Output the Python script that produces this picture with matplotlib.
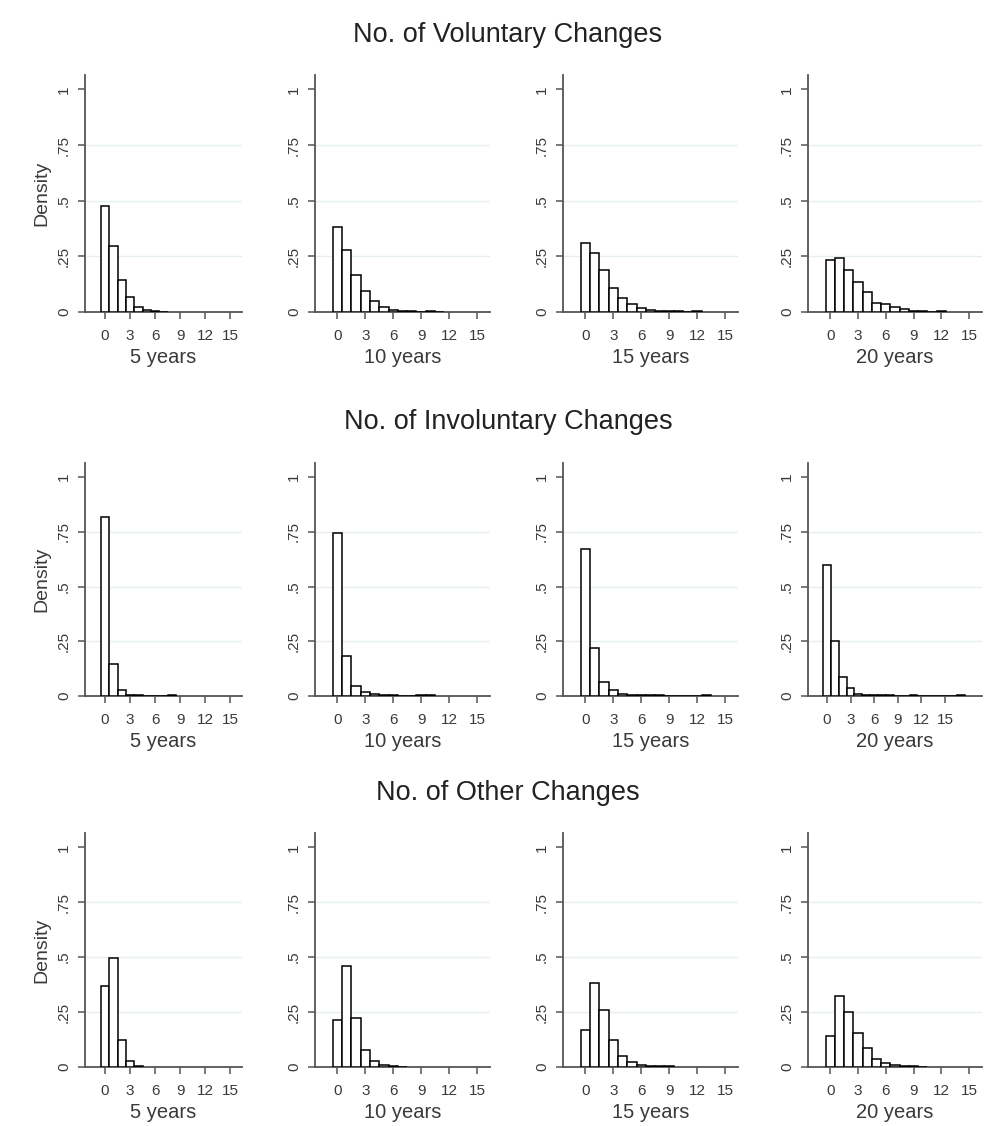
import numpy as np
import matplotlib
matplotlib.use("Agg")
import matplotlib.pyplot as plt

plt.rcParams['font.family'] = ['Liberation Sans', 'DejaVu Sans']

# densities, one value per count 0,1,2,...
vol_5 = [0.475, 0.298, 0.145, 0.066, 0.021, 0.007, 0.004, 0.002]
vol_10 = [0.38, 0.28, 0.167, 0.093, 0.048, 0.022, 0.010, 0.005, 0.003, 0.001, 0.004, 0.001]
vol_15 = [0.309, 0.264, 0.187, 0.109, 0.064, 0.034, 0.019, 0.010, 0.005, 0.003, 0.003, 0.001, 0.003]
vol_20 = [0.235, 0.242, 0.187, 0.136, 0.091, 0.042, 0.036, 0.022, 0.013, 0.006, 0.004, 0.002, 0.003]

inv_5 = [0.818, 0.147, 0.029, 0.006, 0.003, 0.002, 0.002, 0.001, 0.003]
inv_10 = [0.746, 0.181, 0.047, 0.020, 0.007, 0.004, 0.003, 0.002, 0.001, 0.003, 0.003]
inv_15 = [0.672, 0.219, 0.065, 0.029, 0.010, 0.005, 0.004, 0.003, 0.003, 0.002, 0.0, 0.0, 0.0, 0.003]
inv_20 = [0.598, 0.251, 0.089, 0.036, 0.010, 0.006, 0.003, 0.003, 0.003, 0.002, 0.0, 0.003,
          0.0, 0.0, 0.0, 0.0, 0.0, 0.003]

oth_5 = [0.367, 0.494, 0.121, 0.026, 0.005]
oth_10 = [0.214, 0.461, 0.224, 0.079, 0.026, 0.008, 0.004, 0.002]
oth_15 = [0.169, 0.381, 0.260, 0.125, 0.051, 0.023, 0.008, 0.005, 0.003, 0.003]
oth_20 = [0.139, 0.325, 0.252, 0.156, 0.088, 0.036, 0.017, 0.007, 0.004, 0.003, 0.002]

row_titles = ["No. of Voluntary Changes", "No. of Involuntary Changes", "No. of Other Changes"]
col_labels = ["5 years", "10 years", "15 years", "20 years"]
rows = [[vol_5, vol_10, vol_15, vol_20],
        [inv_5, inv_10, inv_15, inv_20],
        [oth_5, oth_10, oth_15, oth_20]]

x_ticks = [0, 3, 6, 9, 12, 15]
y_ticks = [0, 0.25, 0.5, 0.75, 1]
y_tick_labels = ["0", ".25", ".5", ".75", "1"]

W, H = 987, 1126
fig = plt.figure(figsize=(W / 100, H / 100), dpi=100)

# pixel layout of the plot areas (left, right) and (top, zero line)
col_px = [(85, 242), (315, 490), (563, 738), (808, 982)]
row_px = [(75, 312), (463, 696), (833, 1067)]
title_y = [35, 422, 793]
ytop = 1.065

axis_col = "#555555"
text_col = "#3a3a3a"

for r in range(3):
    fig.text(508 / W, 1 - title_y[r] / H, row_titles[r], ha="center", va="center",
             fontsize=19.5, color="#222222")
    for c in range(4):
        l, rgt = col_px[c]
        t, b = row_px[r]
        ax = fig.add_axes([l / W, 1 - b / H, (rgt - l) / W, (b - t) / H])
        vals = rows[r][c]
        xs = np.arange(len(vals))
        ax.bar(xs, vals, width=1.0, facecolor="white", edgecolor="black", linewidth=1.1, zorder=3)

        xmax = 16.4
        if len(vals) > 16:
            xmax = 19.7  # this panel has a bar far out at 17
        ax.set_xlim(-2.4, xmax)
        ax.set_ylim(0, ytop)

        for s in ["top", "right"]:
            ax.spines[s].set_visible(False)
        for s in ["left", "bottom"]:
            ax.spines[s].set_color(axis_col)
            ax.spines[s].set_linewidth(1.3)

        # light stata style grid
        for g in [0.25, 0.5, 0.75]:
            ax.axhline(g, color="#e6efef", linewidth=1.0, zorder=1)

        ax.set_xticks(x_ticks)
        ax.set_xticklabels([str(v) for v in x_ticks])
        ax.set_yticks(y_ticks)
        ax.set_yticklabels(y_tick_labels, rotation=90, va="center")
        ax.tick_params(axis="both", direction="out", length=5, width=1.1, color=axis_col,
                       labelsize=11, labelcolor=text_col)
        ax.tick_params(axis="x", pad=7)
        ax.tick_params(axis="y", pad=5)

        ax.set_xlabel(col_labels[c], fontsize=14.5, color=text_col, labelpad=4)
        if c == 0:
            ax.set_ylabel("Density", fontsize=14, color=text_col, labelpad=5)

fig.savefig("out.png", dpi=100, facecolor="white")
